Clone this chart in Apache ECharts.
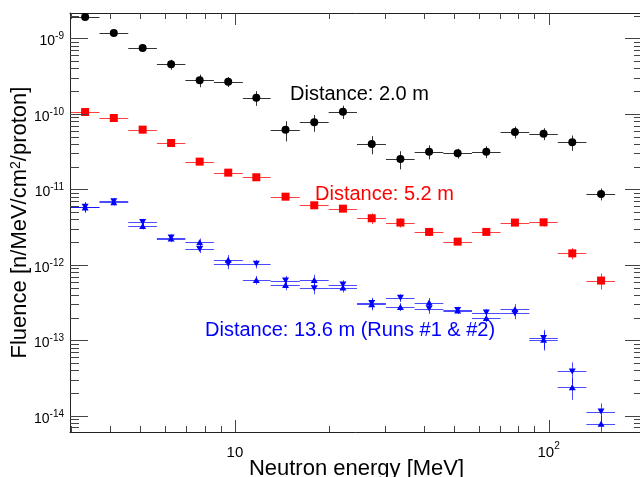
<!DOCTYPE html>
<html>
<head>
<meta charset="utf-8">
<script src="https://cdn.jsdelivr.net/npm/echarts@6.0.0/dist/echarts.min.js"></script>
<style>
  html, body { margin: 0; padding: 0; background: #fff; }
  #chart { width: 640px; height: 477px; }
</style>
</head>
<body>
<div id="chart"></div>
<script>
// neutron energy bins [MeV] (bin centres and bin edges)
var energy = [3.33, 4.11, 5.08, 6.26, 7.72, 9.52, 11.7, 14.5, 17.9, 22.1, 27.3, 33.7, 41.6, 51.3, 63.3, 78.1, 96.4, 119, 147];
var binEdges = [3.0, 3.70, 4.57, 5.64, 6.95, 8.57, 10.6, 13.0, 16.1, 19.9, 24.5, 30.3, 37.4, 46.2, 57.0, 70.3, 86.8, 107, 132, 163];

// fluence [n/MeV/cm2/proton] and relative errors
var fluence2m = [1.92e-9, 1.18e-9, 7.45e-10, 4.53e-10, 2.78e-10, 2.67e-10, 1.64e-10, 6.17e-11, 7.73e-11, 1.07e-10, 3.99e-11, 2.52e-11, 3.16e-11, 3.0e-11, 3.16e-11, 5.75e-11, 5.47e-11, 4.2e-11, 8.7e-12];
var err2m = [0.06, 0.1, 0.1, 0.15, 0.19, 0.15, 0.22, 0.3, 0.25, 0.2, 0.27, 0.27, 0.21, 0.15, 0.18, 0.18, 0.18, 0.23, 0.18];

var fluence5m = [1.058e-10, 8.82e-11, 6.18e-11, 4.11e-11, 2.33e-11, 1.665e-11, 1.445e-11, 8.0e-12, 6.15e-12, 5.55e-12, 4.14e-12, 3.63e-12, 2.73e-12, 2.03e-12, 2.73e-12, 3.63e-12, 3.66e-12, 1.42e-12, 6.19e-13];
var err5m = [0.06, 0.06, 0.07, 0.07, 0.08, 0.08, 0.08, 0.1, 0.1, 0.08, 0.16, 0.14, 0.12, 0.09, 0.06, 0.06, 0.12, 0.17, 0.24];

var fluenceRun1 = [5.90e-12, 6.98e-12, 3.70e-12, 2.30e-12, 1.625e-12, 1.03e-12, 1.03e-12, 6.19e-13, 4.9e-13, 5.48e-13, 3.13e-13, 3.65e-13, 2.63e-13, 2.53e-13, 2.33e-13, 2.29e-13, 1.077e-13, 3.87e-14, 1.14e-14];
var fluenceRun2 = [5.76e-12, 6.77e-12, 3.27e-12, 2.23e-12, 1.99e-12, 1.17e-12, 6.3e-13, 5.42e-13, 6.31e-13, 5.0e-13, 3.01e-13, 2.77e-13, 3.16e-13, 2.48e-13, 1.98e-13, 2.58e-13, 1.014e-13, 2.39e-14, 7.83e-15];
var err13m = [0.15, 0.1, 0.1, 0.1, 0.12, 0.15, 0.13, 0.15, 0.17, 0.14, 0.17, 0.12, 0.15, 0.1, 0.12, 0.17, 0.28, 0.32, 0.28];

// axis ranges and ticks
var X_MIN = 2.98, X_MAX = 200;
var Y_MIN = 6.1e-15, Y_MAX = 2.17e-9;
var xMajorTicks = [10, 100];
var xMinorTicks = [3, 4, 5, 6, 7, 8, 9, 20, 30, 40, 50, 60, 70, 80, 90];
var yMajorTicks = [1e-14, 1e-13, 1e-12, 1e-11, 1e-10, 1e-9];

var FONT = 'Liberation Sans, Arial, Helvetica, sans-serif';
var TICK = '#444';

var yMinorTicks = [];
for (var e = -15; e <= -9; e++) {
  for (var m = 2; m <= 9; m++) {
    var t = m * Math.pow(10, e);
    if (t > Y_MIN && t < Y_MAX) yMinorTicks.push(t);
  }
}

function errorData(vals, rel) {
  return vals.map(function (v, i) {
    return [energy[i], v, binEdges[i], binEdges[i + 1], v * (1 - rel[i]), v * (1 + rel[i])];
  });
}

function points(vals) {
  return vals.map(function (v, i) { return [energy[i], v]; });
}

function errorBar(color) {
  return function (params, api) {
    var c = api.coord([api.value(0), api.value(1)]);
    var lo = api.coord([api.value(2), api.value(1)]);
    var hi = api.coord([api.value(3), api.value(1)]);
    var yl = api.coord([api.value(0), api.value(4)]);
    var yh = api.coord([api.value(0), api.value(5)]);
    var x = Math.round(c[0]) + 0.5, y = Math.round(c[1]) + 0.5;
    return {
      type: 'group',
      children: [
        { type: 'line', shape: { x1: lo[0], y1: y, x2: hi[0], y2: y }, style: { stroke: color, lineWidth: 1 } },
        { type: 'line', shape: { x1: x, y1: yl[1], x2: x, y2: yh[1] }, style: { stroke: color, lineWidth: 1 } }
      ]
    };
  };
}

// ticks on all four sides, ROOT style
function xTick(params, api) {
  var cs = params.coordSys;
  var x = Math.round(api.coord([api.value(0), Y_MAX])[0]) + 0.5;
  var len = api.value(2) ? 12 : 6;
  var b = cs.y + cs.height, t = cs.y;
  return {
    type: 'group',
    children: [
      { type: 'line', shape: { x1: x, y1: b, x2: x, y2: b - len }, style: { stroke: TICK, lineWidth: 1 } },
      { type: 'line', shape: { x1: x, y1: t, x2: x, y2: t + len }, style: { stroke: TICK, lineWidth: 1 } }
    ]
  };
}

function yTick(params, api) {
  var cs = params.coordSys;
  var y = Math.round(api.coord([X_MAX, api.value(1)])[1]) + 0.5;
  var len = api.value(2) ? 18 : 9;
  var l = cs.x, r = cs.x + cs.width;
  return {
    type: 'group',
    children: [
      { type: 'line', shape: { x1: l, y1: y, x2: l + len, y2: y }, style: { stroke: TICK, lineWidth: 1 } },
      { type: 'line', shape: { x1: r, y1: y, x2: r - len, y2: y }, style: { stroke: TICK, lineWidth: 1 } }
    ]
  };
}

var xTickData = xMajorTicks.map(function (v) { return [v, Y_MAX, 1]; })
  .concat(xMinorTicks.map(function (v) { return [v, Y_MAX, 0]; }));
var yTickData = yMajorTicks.map(function (v) { return [X_MAX, v, 1]; })
  .concat(yMinorTicks.map(function (v) { return [X_MAX, v, 0]; }));

function powLabel(v) {
  var p = Math.log10(v);
  var e = Math.round(p);
  if (Math.abs(p - e) > 1e-6) return '';
  return e === 1 ? '{b|10}' : '{b|10}{s|' + e + '}';
}

var chart = echarts.init(document.getElementById('chart'));
var option = {
  animation: false,
  textStyle: { fontFamily: FONT },
  grid: { left: 70, top: 13, right: -3, bottom: 45, containLabel: false, outerBoundsMode: 'none' },
  xAxis: [
    {
      type: 'log', min: X_MIN, max: X_MAX, position: 'bottom',
      axisLine: { show: true, lineStyle: { color: '#222', width: 1 } },
      axisTick: { show: false },
      splitLine: { show: false },
      axisLabel: {
        formatter: powLabel, margin: 7, color: '#000',
        showMinLabel: false, showMaxLabel: false,
        rich: {
          b: { fontSize: 15, fontFamily: FONT, color: '#000', padding: [6, 0, 0, 0] },
          s: { fontSize: 10, fontFamily: FONT, color: '#000', verticalAlign: 'top', padding: [2, 0, 0, 0] }
        }
      },
      name: 'Neutron energy [MeV]',
      nameLocation: 'middle',
      nameGap: 26,
      nameMoveOverlap: false,
      nameTextStyle: { fontSize: 22, color: '#000', fontFamily: FONT }
    },
    {
      type: 'log', min: X_MIN, max: X_MAX, position: 'top',
      axisLine: { show: true, lineStyle: { color: '#222', width: 1 } },
      axisTick: { show: false }, axisLabel: { show: false }, splitLine: { show: false }
    }
  ],
  yAxis: {
    type: 'log', min: Y_MIN, max: Y_MAX,
    axisLine: { show: true, lineStyle: { color: '#222', width: 1 } },
    axisTick: { show: false },
    splitLine: { show: false },
    axisLabel: {
      formatter: powLabel, margin: 6, color: '#000',
      showMinLabel: false, showMaxLabel: false,
      rich: {
        b: { fontSize: 14, fontFamily: FONT, color: '#000', padding: [6, 0, 0, 0] },
        s: { fontSize: 10, fontFamily: FONT, color: '#000', verticalAlign: 'top', padding: [3, 0, 0, 0] }
      }
    },
    name: 'Fluence [n/MeV/cm{sup|2}/proton]',
    nameLocation: 'middle',
    nameGap: 39,
    nameMoveOverlap: false,
    nameTextStyle: {
      fontSize: 22, color: '#000', fontFamily: FONT,
      rich: { sup: { fontSize: 14, color: '#000', fontFamily: FONT, verticalAlign: 'top' } }
    }
  },
  graphic: [
    { type: 'text', x: 290, y: 94, style: { text: 'Distance: 2.0 m', fontSize: 20, fontFamily: FONT, fill: '#000', verticalAlign: 'middle' } },
    { type: 'text', x: 315, y: 194, style: { text: 'Distance: 5.2 m', fontSize: 20, fontFamily: FONT, fill: '#ff0000', verticalAlign: 'middle' } },
    { type: 'text', x: 205, y: 330, style: { text: 'Distance: 13.6 m (Runs #1 & #2)', fontSize: 20, fontFamily: FONT, fill: '#0000ff', verticalAlign: 'middle' } }
  ],
  series: [
    { type: 'custom', name: '2.0 m err', clip: true, silent: true, encode: { x: 0, y: 1 }, renderItem: errorBar('#333'), data: errorData(fluence2m, err2m) },
    { type: 'custom', name: '5.2 m err', clip: true, silent: true, encode: { x: 0, y: 1 }, renderItem: errorBar('rgba(255,0,0,0.75)'), data: errorData(fluence5m, err5m) },
    { type: 'custom', name: 'run1 err', clip: true, silent: true, encode: { x: 0, y: 1 }, renderItem: errorBar('rgba(0,0,255,0.7)'), data: errorData(fluenceRun1, err13m) },
    { type: 'custom', name: 'run2 err', clip: true, silent: true, encode: { x: 0, y: 1 }, renderItem: errorBar('rgba(0,0,255,0.7)'), data: errorData(fluenceRun2, err13m) },
    { type: 'scatter', name: 'Distance: 2.0 m', symbol: 'circle', symbolSize: 8, itemStyle: { color: '#000', opacity: 1 }, data: points(fluence2m) },
    { type: 'scatter', name: 'Distance: 5.2 m', symbol: 'rect', symbolSize: 8, itemStyle: { color: '#ff0000', opacity: 1 }, data: points(fluence5m) },
    { type: 'scatter', name: 'Run #1', symbol: 'triangle', symbolRotate: 180, symbolSize: [7, 6], itemStyle: { color: '#0000ff', opacity: 1 }, data: points(fluenceRun1) },
    { type: 'scatter', name: 'Run #2', symbol: 'triangle', symbolSize: [7, 6], itemStyle: { color: '#0000ff', opacity: 1 }, data: points(fluenceRun2) },
    { type: 'custom', name: 'x ticks', silent: true, z: 5, encode: { x: 0, y: 1 }, renderItem: xTick, data: xTickData },
    { type: 'custom', name: 'y ticks', silent: true, z: 5, encode: { x: 0, y: 1 }, renderItem: yTick, data: yTickData }
  ]
};
chart.setOption(option);
</script>
</body>
</html>
